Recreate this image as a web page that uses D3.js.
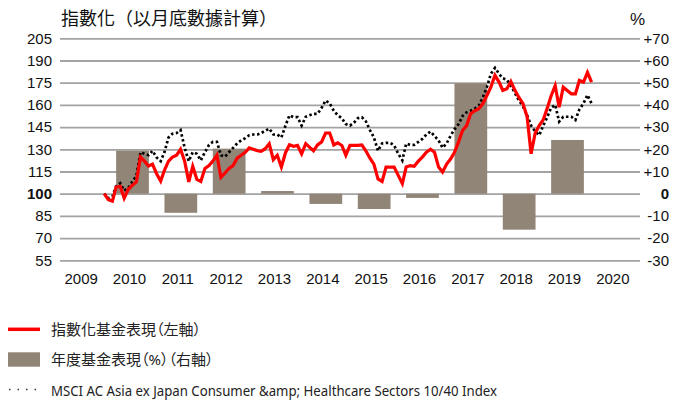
<!DOCTYPE html>
<html>
<head>
<meta charset="utf-8">
<script src="https://cdn.jsdelivr.net/npm/d3@7"></script>
<style>
  body { margin: 0; background: #fff; }
  svg { display: block; }
  .tick text { font-family: "Liberation Sans", Arial, sans-serif; font-size: 15px; fill: #111; }
  .legend text { font-family: "Noto Sans", "Noto Sans CJK TC", sans-serif; font-size: 15px; fill: #222; font-feature-settings: "palt"; }
</style>
</head>
<body>
<div id="chart"></div>
<script>
// categories on the x axis
const years = ["2009", "2010", "2011", "2012", "2013", "2014", "2015", "2016", "2017", "2018", "2019", "2020"];

// yearly fund return (%), right axis
const barYears = ["2010", "2011", "2012", "2013", "2014", "2015", "2016", "2017", "2018", "2019"];
const barValues = [19.4, -8.6, 20.3, 1.2, -4.6, -6.9, -1.9, 49.7, -16.2, 24.2];

// monthly indexed values, left axis, first month = Dec 2009
const startMonth = new Date(2009, 11, 1);
const fundIndex = [
  100, 96, 95, 104.5, 105, 97, 103, 105.6, 108, 124.7, 122, 118.7,
  120, 113.5, 108.5, 115.8, 122, 124.7, 126, 130, 122, 108, 118.5, 109.7,
  108.3, 117, 119, 122, 126, 111, 114, 117, 119, 124, 126, 128,
  131, 130, 129, 128.6, 130.4, 133.8, 123, 126, 118, 127.7, 133, 132,
  132.6, 127, 133.8, 131.5, 129, 133, 135, 141, 141, 133, 134.4, 132.6,
  126, 132.6, 132.6, 132.6, 133, 129, 124, 120, 110, 108.3, 118, 118,
  118, 112.4, 106.8, 118, 119, 118.5, 122, 124.7, 128, 130, 128, 118,
  114.6, 120, 123.6, 128, 135, 142.7, 146, 154, 156, 157.4, 160.8, 166.4,
  172, 180, 175.4, 169.8, 170.9, 175.8, 169.8, 165, 160.8, 152, 127, 141,
  146, 150, 158, 166, 173, 158.5, 172, 169.8, 167.5, 167.5, 176.5, 175.4,
  182, 175.4
];
const msciIndex = [
  100, 97, 98, 105, 107, 102, 104, 108, 112, 128, 127, 126,
  129, 124.5, 122, 128, 138, 140.5, 141, 143, 131, 122, 128, 127,
  122.5, 128, 133, 135, 135, 126, 125, 128, 131, 134, 136, 137.5,
  139.5, 140, 140, 141, 142.5, 144, 140, 140, 138, 146, 153, 151.7,
  151.7, 146, 152, 153, 154, 154, 158, 163, 161, 156, 153, 151,
  147, 146, 148, 151, 151.7, 149, 143, 138, 129, 134, 134.4, 134.4,
  132.6, 127, 122.5, 133.8, 133, 133, 135, 137, 140, 142, 139, 136,
  131, 134, 139.4, 143.5, 147, 152.5, 155, 156, 157.4, 159.6, 165, 172,
  181, 185, 181, 178, 177, 173, 168, 163, 159, 153, 146, 142,
  139.5, 146, 152, 158, 160, 148.7, 152, 152, 152, 149.8, 157, 161,
  166.7, 161
];

const leftTicks = [55, 70, 85, 100, 115, 130, 145, 160, 175, 190, 205];
const rightTicks = [-30, -20, -10, 0, 10, 20, 30, 40, 50, 60, 70];

const width = 682, height = 401;
const plotLeft = 60, plotRight = 640, plotTop = 38.3, plotBottom = 260.3;

const svg = d3.select("#chart").append("svg")
  .attr("width", width)
  .attr("height", height);

const x = d3.scaleBand().domain(years).range([plotLeft, plotRight]).paddingInner(0.323).paddingOuter(0.1615);
const xTime = d3.scaleTime().domain([new Date(2009, 0, 1), new Date(2021, 0, 1)]).range([plotLeft, plotRight]);
const yL = d3.scaleLinear().domain([55, 205]).range([plotBottom, plotTop]);
const yR = d3.scaleLinear().domain([-30, 70]).range([plotBottom, plotTop]);

// left axis + gridlines
const gL = svg.append("g")
  .attr("transform", `translate(${plotLeft},0)`)
  .call(d3.axisLeft(yL).tickValues(leftTicks).tickSize(-(plotRight - plotLeft)).tickPadding(8));
gL.select(".domain").remove();
gL.selectAll(".tick line").attr("stroke", "#a3a3a3").attr("stroke-width", 1.8);
gL.selectAll(".tick text").style("font-weight", d => d === 100 ? "bold" : "normal");

// right axis
const gR = svg.append("g")
  .attr("transform", `translate(${plotRight},0)`)
  .call(d3.axisRight(yR).tickValues(rightTicks).tickSize(0).tickFormat(d => d > 0 ? "+" + d : String(d)));
gR.select(".domain").remove();
gR.selectAll(".tick text")
  .attr("x", 29)
  .attr("text-anchor", "end")
  .style("font-weight", d => d === 0 ? "bold" : "normal");

// x labels
svg.append("g").selectAll("text")
  .data(years)
  .enter()
  .append("text")
  .attr("x", d => x(d) + x.bandwidth() / 2 - 3)
  .attr("y", 284)
  .attr("text-anchor", "middle")
  .style("font-family", "'Liberation Sans', Arial, sans-serif")
  .style("font-size", "15px")
  .style("fill", "#111")
  .text(d => d);

// bars
svg.append("g").selectAll("rect")
  .data(barYears.map((y, i) => [y, barValues[i]]))
  .enter()
  .append("rect")
  .attr("x", d => x(d[0]))
  .attr("width", x.bandwidth())
  .attr("y", d => yR(Math.max(0, d[1])))
  .attr("height", d => Math.abs(yR(d[1]) - yR(0)))
  .attr("fill", "#918578");

const monthDate = i => new Date(startMonth.getFullYear(), startMonth.getMonth() + i, 1);

const line = d3.line()
  .x((d, i) => xTime(monthDate(i)))
  .y(d => yL(d));

svg.append("path")
  .datum(msciIndex)
  .attr("d", line)
  .attr("fill", "none")
  .attr("stroke", "#000")
  .attr("stroke-width", 2.7)
  .attr("stroke-dasharray", "2.5 2.5");

svg.append("path")
  .datum(fundIndex)
  .attr("d", line)
  .attr("fill", "none")
  .attr("stroke", "#ff0000")
  .attr("stroke-width", 3.2)
  .attr("stroke-linejoin", "miter");

// titles
svg.append("text")
  .attr("x", 61).attr("y", 25)
  .style("font-family", "'Noto Sans CJK TC', sans-serif")
  .style("font-size", "18px")
  .style("fill", "#111")
  .text("指數化（以月底數據計算）");

svg.append("text")
  .attr("x", 630).attr("y", 25)
  .style("font-family", "'Liberation Sans', Arial, sans-serif")
  .style("font-size", "17px")
  .style("fill", "#111")
  .text("%");

// legend
const legend = svg.append("g").attr("class", "legend");
legend.append("line")
  .attr("x1", 8).attr("x2", 40).attr("y1", 329.3).attr("y2", 329.3)
  .attr("stroke", "#ff0000").attr("stroke-width", 3.5);
legend.append("text").attr("x", 51).attr("y", 334.5).text("指數化基金表現（左軸）");

legend.append("rect")
  .attr("x", 8).attr("y", 352.3).attr("width", 32).attr("height", 14.4)
  .attr("fill", "#918578");
legend.append("text").attr("x", 51).attr("y", 364.5).text("年度基金表現（%）（右軸）");

legend.append("line")
  .attr("x1", 9).attr("x2", 40).attr("y1", 389.5).attr("y2", 389.5)
  .attr("stroke", "#333").attr("stroke-width", 1.5).attr("stroke-dasharray", "1.5 7");
legend.append("text").attr("x", 51).attr("y", 395.5)
  .style("font-size", "14.5px")
  .attr("textLength", 446)
  .attr("lengthAdjust", "spacingAndGlyphs")
  .text("MSCI AC Asia ex Japan Consumer &amp; Healthcare Sectors 10/40 Index");
</script>
</body>
</html>
